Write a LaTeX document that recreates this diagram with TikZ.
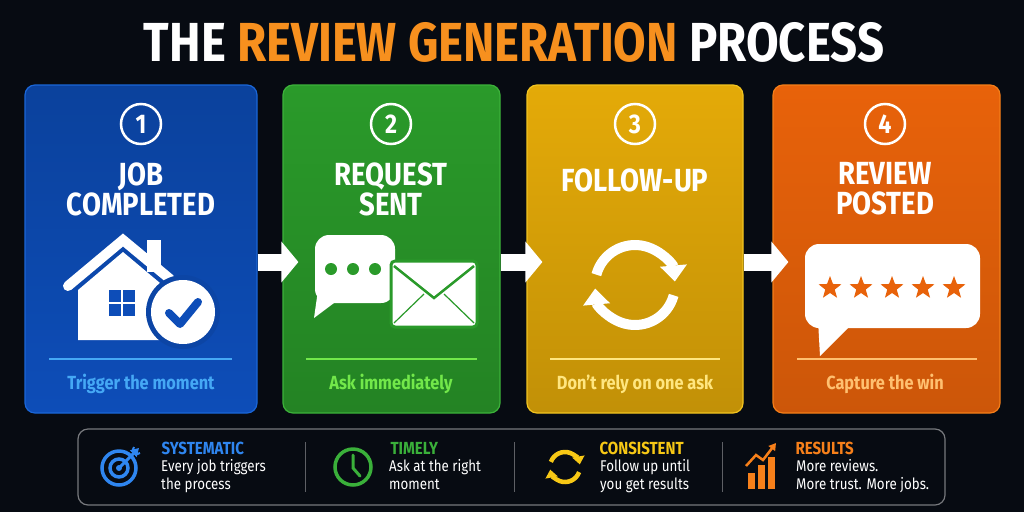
\documentclass[tikz,border=0pt]{standalone}
\usepackage{fontspec}
\setmainfont{Fira Sans}[FakeStretch=0.86]
\usetikzlibrary{arrows.meta,shapes.geometric,calc}
\definecolor{bg}{HTML}{070B12}
\definecolor{cb}{HTML}{0D4DB8}\definecolor{cbl}{HTML}{1A66D8}\definecolor{cbt}{HTML}{45A8F5}
\definecolor{cg}{HTML}{2A9A2A}\definecolor{cgl}{HTML}{3CB23A}\definecolor{cgt}{HTML}{72E84A}
\definecolor{cy}{HTML}{E4AA08}\definecolor{cyl}{HTML}{F2C420}\definecolor{cyt}{HTML}{FFE680}
\definecolor{co}{HTML}{E8620A}\definecolor{col}{HTML}{F57E18}\definecolor{cot}{HTML}{FFC070}
\definecolor{tor}{HTML}{F7901E}
\definecolor{ib}{HTML}{2F86F0}\definecolor{ig}{HTML}{3AB03A}\definecolor{iy}{HTML}{F7C815}\definecolor{io}{HTML}{F7801A}
\tikzset{
 card/.style={rounded corners=10pt,minimum height=328pt,line width=1.2pt},
 num/.style={circle,draw=white,line width=2.5pt,minimum size=40pt,text=white,font=\fontsize{27}{27}\selectfont\bfseries,inner sep=0pt},
 ctitle/.style={text=white,align=center,font=\fontsize{32}{30}\selectfont\bfseries},
 csub/.style={font=\fontsize{19}{19}\selectfont\bfseries},
 flow/.style={white,line width=17pt,-{Triangle[width=40pt,length=17pt]}},
 wline/.style={white,line width=10pt,line join=round},
 bhead/.style={anchor=west,font=\fontsize{17.5}{17.5}\selectfont\bfseries},
 btext/.style={anchor=north west,text=white,align=left,font=\fontsize{15.5}{18}\selectfont,inner sep=0pt},
 sep/.style={draw=white!35!bg,line width=0.8pt},
}
\begin{document}
\begin{tikzpicture}[x=1pt,y=-1pt]
\fill[bg] (0,0) rectangle (1024,512);
\useasboundingbox (0,0) rectangle (1024,512);
\node (title) at (514,42) {\fontsize{55}{55}\selectfont\bfseries\color{white}THE \color{tor}REVIEW GENERATION\color{white}\ PROCESS};
% cards
\node[card,minimum width=232pt,draw=cbl,top color=cb!85!black,bottom color=cb] (c1) at (141,249) {};
\node[card,minimum width=217pt,draw=cgl,top color=cg,bottom color=cg!85!black] (c2) at (391.5,249) {};
\node[card,minimum width=216pt,draw=cyl,top color=cy,bottom color=cy!85!black] (c3) at (635,249) {};
\node[card,minimum width=227pt,draw=col,top color=co,bottom color=co!88!black] (c4) at (886.5,249) {};
\draw[flow] ([yshift=-13pt]c1.east) -- ([xshift=16pt,yshift=-13pt]c2.west);
\draw[flow] ([yshift=-13pt]c2.east) -- ([xshift=16pt,yshift=-13pt]c3.west);
\draw[flow] ([yshift=-13pt]c3.east) -- ([xshift=16pt,yshift=-13pt]c4.west);
% numbers and titles
\node[num] (n1) at (141,124) {1};
\node[num] (n2) at (391,124) {2};
\node[num] (n3) at (635,124) {3};
\node[num] (n4) at (885,124) {4};
\node[ctitle] (t1) at (141,189) {JOB\\COMPLETED};
\node[ctitle] (t2) at (391,189) {REQUEST\\SENT};
\node[ctitle] (t3) at (635,180) {FOLLOW-UP};
\node[ctitle] (t4) at (885,189) {REVIEW\\POSTED};
% separators and subtitles
\draw[cbt,line width=1.2pt] (49,359) -- (232,359);
\draw[cgt,line width=1.2pt] (306,359) -- (477,359);
\draw[cyt,line width=1.2pt] (550,359) -- (720,359);
\draw[cot,line width=1.2pt] (797,359) -- (977,359);
\node[csub,text=cbt] (s1) at (141,384) {Trigger the moment};
\node[csub,text=cgt] (s2) at (391,384) {Ask immediately};
\node[csub,text=cyt] (s3) at (635,384) {Don’t rely on one ask};
\node[csub,text=cot] (s4) at (885,384) {Capture the win};
% house icon
\fill[white] (147,240) rectangle (161,272);
\fill[white] (78,290) -- (123,252) -- (160,283) -- (160,340) -- (78,340) -- cycle;
\draw[wline,line cap=round,line join=miter] (68,286) -- (123,240) -- (170,279);
\foreach \dx/\dy in {0/0,14/0,0/14,14/14} \fill[cb] (109+\dx,290+\dy) rectangle ++(12,12);
\fill[cb!90!black] (183,312) circle (37);
\fill[white] (183,312) circle (32);
\draw[cb,line width=8pt,line cap=round,line join=round] (169,313) -- (180,324) -- (198,302);
% chat + envelope
\fill[white,rounded corners=14pt] (315,235) rectangle (395,303);
\fill[white] (318,290) -- (314,318) -- (338,300) -- cycle;
\foreach \x in {331,353,375} \fill[cg] (\x,269) circle (6);
\fill[white,draw=cg,line width=3pt,rounded corners=4pt] (391,261) rectangle (477,327);
\draw[cg,line width=2.5pt] (394,266) -- (434,298) -- (474,266);
\draw[cg,line width=1.2pt] (394,323) -- (424,294) (474,323) -- (444,294);
% refresh icon
\draw[wline,-{Triangle[width=26pt,length=16pt]}] (635,285) ++(-165:40) arc[start angle=-165,end angle=-5,radius=40];
\draw[wline,-{Triangle[width=26pt,length=16pt]}] (635,285) ++(15:40) arc[start angle=15,end angle=175,radius=40];
% review bubble
\fill[white,rounded corners=14pt] (805,244) rectangle (980,328);
\fill[white] (818,320) -- (820,356) -- (850,326) -- cycle;
\foreach \i in {0,...,4} \node[star,star points=5,star point ratio=2.4,fill=co,minimum size=24pt,inner sep=0pt] (st\i) at (830+31*\i,288) {};
% bottom panel
\node[draw=white!45!bg,line width=1.2pt,rounded corners=10pt,minimum width=867pt,minimum height=76pt] (panel) at (511.5,467) {};
\draw[sep] (305,442) -- (305,492);
\draw[sep] (514,442) -- (514,492);
\draw[sep] (722,442) -- (722,492);
% target
\draw[ib,line width=3.5pt] (119,468) circle (17);
\draw[ib,line width=3.5pt] (119,468) circle (9);
\fill[ib] (119,468) circle (3);
\draw[ib,line width=3pt,-{Triangle[width=9pt,length=8pt]}] (119,468) -- (139,448);
\draw[ib,line width=2pt] (134,447) -- (132,452) (140,453) -- (135,455);
\node[bhead,text=ib] (h1) at (158,448) {SYSTEMATIC};
\node[btext] (b1) at (161,459) {Every job triggers\\the process};
% clock
\draw[ig,line width=3.5pt] (353,467) circle (18);
\draw[ig,line width=3pt,line cap=round] (353,455) -- (353,468) -- (360,476);
\node[bhead,text=ig] (h2) at (387,448) {TIMELY};
\node[btext] (b2) at (389,459) {Ask at the right\\moment};
% consistent
\draw[iy,line width=4.5pt,-{Triangle[width=12pt,length=8pt]}] (565,467) ++(-160:15) arc[start angle=-160,end angle=-10,radius=15];
\draw[iy,line width=4.5pt,-{Triangle[width=12pt,length=8pt]}] (565,467) ++(20:15) arc[start angle=20,end angle=170,radius=15];
\node[bhead,text=iy] (h3) at (596,448) {CONSISTENT};
\node[btext] (b3) at (600,459) {Follow up until\\you get results};
% results
\fill[io] (748,473) rectangle (755,489);
\fill[io] (758,465) rectangle (765,489);
\fill[io] (768,457) rectangle (775,489);
\draw[io,line width=2.5pt,-{Triangle[width=8pt,length=7pt]}] (746,466) -- (756,455) -- (763,460) -- (776,443);
\node[bhead,text=io] (h4) at (792,448) {RESULTS};
\node[btext] (b4) at (796,459) {More reviews.\\More trust. More jobs.};
\end{tikzpicture}
\end{document}
